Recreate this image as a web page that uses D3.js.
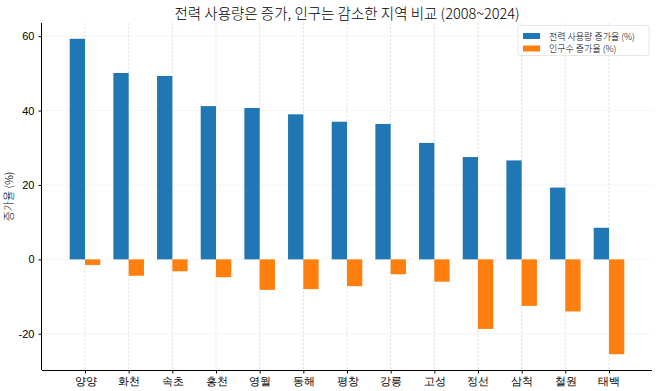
<!DOCTYPE html>
<html><head><meta charset="utf-8">
<script src="https://cdn.jsdelivr.net/npm/d3@7"></script>
<style>
body{margin:0;background:#fff;}
svg{display:block;font-family:"Noto Sans CJK KR","Noto Sans",sans-serif;}
</style></head><body>
<svg id="c" width="658" height="391"></svg>
<script>
const categories = ["양양","화천","속초","홍천","영월","동해","평창","강릉","고성","정선","삼척","철원","태백"];
const powerGrowth = [59.3, 50.1, 49.3, 41.2, 40.7, 39.0, 37.0, 36.4, 31.3, 27.5, 26.6, 19.3, 8.5];
const popGrowth = [-1.5, -4.4, -3.2, -4.8, -8.2, -8.0, -7.2, -4.0, -6.0, -18.7, -12.5, -14.0, -25.5];
const yTicks = [-20, 0, 20, 40, 60];
const seriesNames = ["전력 사용량 증가율 (%)", "인구수 증가율 (%)"];
const colors = ["#1f77b4", "#ff7f0e"];

const svg = d3.select("#c");
const L = 42, R = 652, T = 23, B = 370;
const bw = 0.35;
const n = categories.length;
const x = d3.scaleLinear().domain([-bw - 0.05*(n-1+2*bw), n-1+bw + 0.05*(n-1+2*bw)]).range([L, R]);
const allV = powerGrowth.concat(popGrowth);
const vmin = Math.min(0, d3.min(allV)), vmax = d3.max(allV);
const pad = 0.05*(vmax - vmin);
const y = d3.scaleLinear().domain([vmin - pad, vmax + pad]).range([B, T]);

// grid
const g = svg.append("g");
g.selectAll(".vg").data(categories).join("line")
  .attr("x1",(d,i)=>x(i)).attr("x2",(d,i)=>x(i)).attr("y1",T).attr("y2",B)
  .attr("stroke","#d6d6d6").attr("stroke-width",0.7).attr("stroke-dasharray","2.5,1.5");
g.selectAll(".hg").data(yTicks).join("line")
  .attr("x1",L).attr("x2",R).attr("y1",d=>y(d)).attr("y2",d=>y(d))
  .attr("stroke","#ece8e8").attr("stroke-width",0.7).attr("stroke-dasharray","2.5,1.5");

// bars
const series = [powerGrowth, popGrowth];
series.forEach((vals, si) => {
  svg.append("g").selectAll("rect").data(vals).join("rect")
    .attr("x",(d,i)=> si===0 ? x(i-bw) : x(i))
    .attr("width", x(bw)-x(0))
    .attr("y", d=> y(Math.max(0,d)))
    .attr("height", d=> Math.abs(y(d)-y(0)))
    .attr("fill", colors[si]);
});

// axes
const xAxis = d3.axisBottom(x).tickValues(d3.range(n)).tickFormat(i=>categories[i]).tickSize(3.5).tickPadding(4);
const xa = svg.append("g").attr("transform",`translate(0,${B})`).call(xAxis);
xa.select(".domain").attr("d",`M${L},0.5H${R}`).attr("stroke","#000").attr("stroke-width",1);
xa.selectAll("text").attr("font-size",11).attr("fill","#000").attr("font-weight",300);
const yAxis = d3.axisLeft(y).tickValues(yTicks).tickFormat(d=>String(d)).tickSize(3.5).tickPadding(4);
const ya = svg.append("g").attr("transform",`translate(${L},0)`).call(yAxis);
ya.select(".domain").attr("d",`M-0.5,${T}V${B}`).attr("stroke","#000").attr("stroke-width",1);
ya.selectAll("text").attr("font-size",11).attr("fill","#000").attr("font-weight",300);

// title
svg.append("text").attr("x",(L+R)/2).attr("y",19).attr("text-anchor","middle")
  .attr("font-size",14.5).attr("font-weight",300).attr("fill","#000").text("전력 사용량은 증가, 인구는 감소한 지역 비교 (2008~2024)");
// y label
svg.append("text").attr("transform",`translate(13,${(T+B)/2}) rotate(-90)`).attr("text-anchor","middle")
  .attr("font-size",11).attr("font-weight",300).attr("fill","#000").text("증가율 (%)");

// legend
const lg = svg.append("g");
lg.append("rect").attr("x",518).attr("y",25.5).attr("width",131).attr("height",30).attr("rx",2)
  .attr("fill","#fff").attr("fill-opacity",0.8).attr("stroke","#e0e0e0").attr("stroke-width",0.8);
seriesNames.forEach((s,i)=>{
  lg.append("rect").attr("x",523).attr("y",33+i*12.5).attr("width",17).attr("height",6).attr("fill",colors[i]);
  lg.append("text").attr("x",549).attr("y",39.5+i*12.5).attr("font-size",9).attr("font-weight",300).attr("fill","#000").text(s);
});
</script>
</body></html>
